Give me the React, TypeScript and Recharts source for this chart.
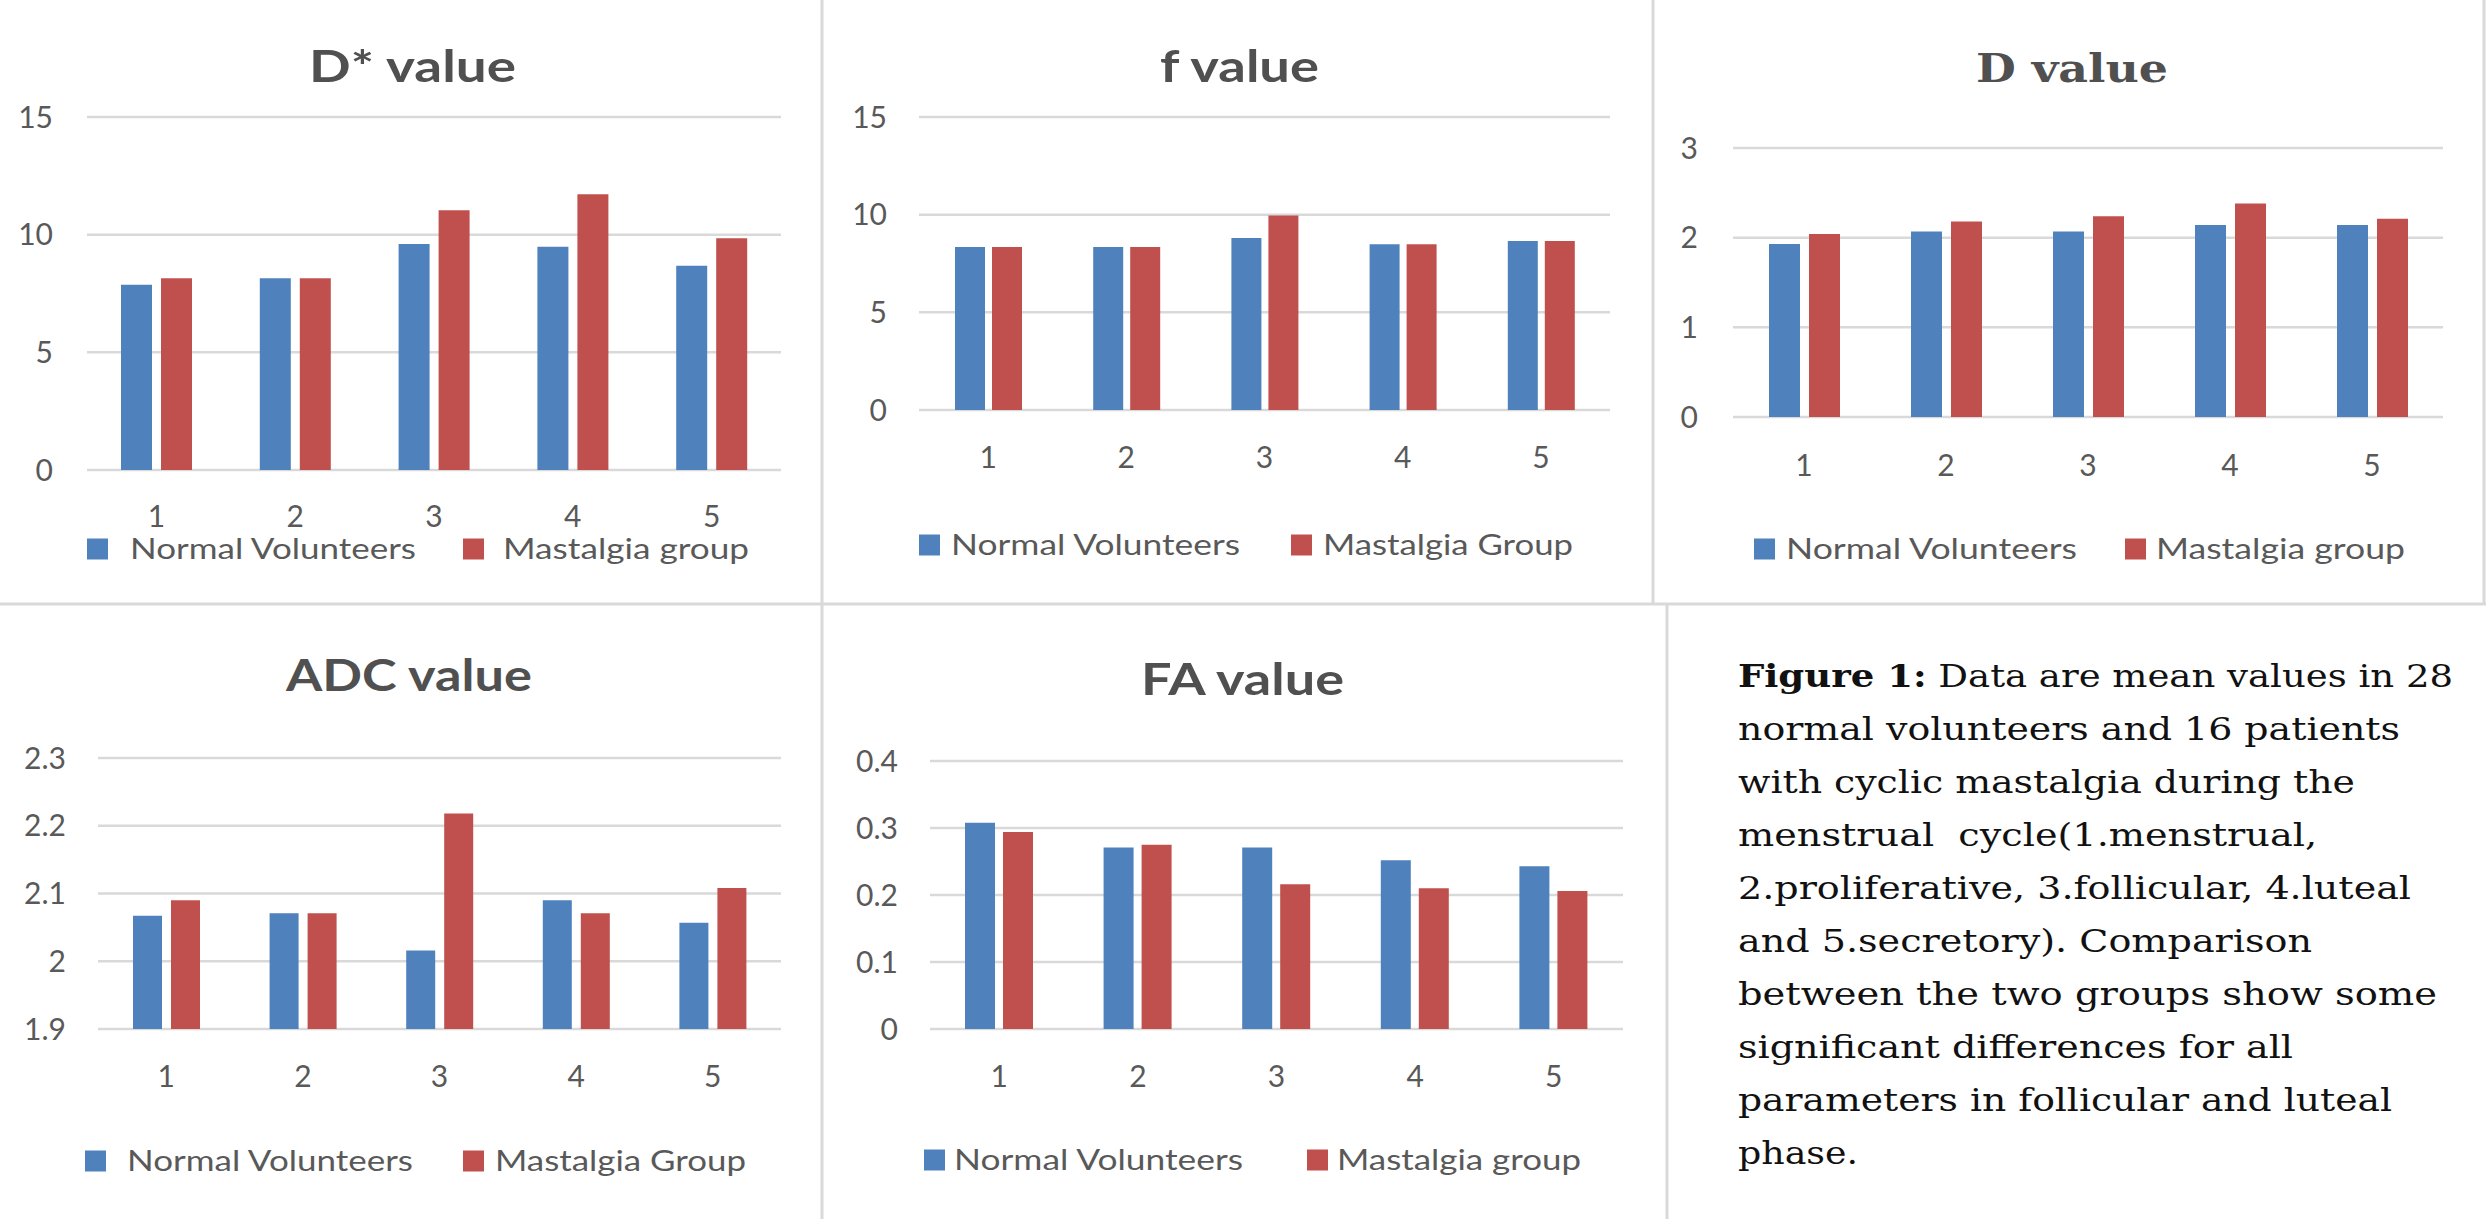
import { Bar, BarChart, CartesianGrid, XAxis, YAxis } from 'recharts'

// menstrual phase 1..5
const phases = ['1', '2', '3', '4', '5']

const dStarNormal = [7.87, 8.15, 9.6, 9.49, 8.68]
const dStarMastalgia = [8.15, 8.15, 11.04, 11.72, 9.85]
const fNormal = [8.35, 8.35, 8.8, 8.49, 8.65]
const fMastalgia = [8.35, 8.35, 9.96, 8.49, 8.65]
const dNormal = [1.93, 2.07, 2.07, 2.14, 2.14]
const dMastalgia = [2.04, 2.18, 2.24, 2.38, 2.21]
const adcNormal = [2.067, 2.071, 2.016, 2.09, 2.057]
const adcMastalgia = [2.09, 2.071, 2.218, 2.071, 2.108]
const faNormal = [0.308, 0.271, 0.271, 0.252, 0.243]
const faMastalgia = [0.294, 0.275, 0.216, 0.21, 0.206]

const dStarTicks = [0, 5, 10, 15]
const fTicks = [0, 5, 10, 15]
const dTicks = [0, 1, 2, 3]
const adcTicks = [1.9, 2, 2.1, 2.2, 2.3]
const faTicks = [0, 0.1, 0.2, 0.3, 0.4]

const captionLines = [
  ['Figure 1:', ' Data are mean values in 28'],
  ['', 'normal volunteers and 16 patients'],
  ['', 'with cyclic mastalgia during the'],
  ['', 'menstrual  cycle(1.menstrual,'],
  ['', '2.proliferative, 3.follicular, 4.luteal'],
  ['', 'and 5.secretory). Comparison'],
  ['', 'between the two groups show some'],
  ['', 'significant differences for all'],
  ['', 'parameters in follicular and luteal'],
  ['', 'phase.'],
]

const BLUE = '#4f81bd'
const RED = '#c0504d'
const GRID = '#d9d9d9'
const SANS = 'Lato, "Open Sans", sans-serif'
const SERIF = '"DejaVu Serif", serif'
const CAPTION_FONT = '"DejaVu Serif Condensed", "DejaVu Serif", serif'

type Panel = {
  title: string
  titleFont: string
  titleSize: number
  normalName: string
  mastalgiaName: string
  normal: number[]
  mastalgia: number[]
  ticks: number[]
  // layout, page pixels
  left: number; top: number; width: number; height: number
  plotLeft: number; plotRight: number; plotTop: number; plotBottom: number
  yTickMargin: number; xTickMargin: number
  barSize: number; barGap: number
  titleX: number; titleW: number; titleBase: number
  legendY: number; legendBlue: number; legendBlueText: number; legendBlueW: number
  legendRed: number; legendRedText: number; legendRedW: number
}

const panels: Panel[] = [
  {
    title: 'D* value', titleFont: SANS, titleSize: 43, normalName: 'Normal Volunteers', mastalgiaName: 'Mastalgia group',
    normal: dStarNormal, mastalgia: dStarMastalgia, ticks: dStarTicks,
    left: 0, top: 0, width: 822, height: 604,
    plotLeft: 87, plotRight: 781, plotTop: 117, plotBottom: 470,
    yTickMargin: 34, xTickMargin: 36, barSize: 31, barGap: 9,
    titleX: 309, titleW: 207, titleBase: 82,
    legendY: 549, legendBlue: 87, legendBlueText: 130, legendBlueW: 286, legendRed: 463, legendRedText: 503, legendRedW: 246,
  },
  {
    title: 'f value', titleFont: SANS, titleSize: 43, normalName: 'Normal Volunteers', mastalgiaName: 'Mastalgia Group',
    normal: fNormal, mastalgia: fMastalgia, ticks: fTicks,
    left: 822, top: 0, width: 831, height: 604,
    plotLeft: 919, plotRight: 1610, plotTop: 117, plotBottom: 410,
    yTickMargin: 32, xTickMargin: 37, barSize: 30, barGap: 7,
    titleX: 1160, titleW: 159, titleBase: 82,
    legendY: 545, legendBlue: 919, legendBlueText: 951, legendBlueW: 289, legendRed: 1291, legendRedText: 1323, legendRedW: 250,
  },
  {
    title: 'D value', titleFont: SERIF, titleSize: 40, normalName: 'Normal Volunteers', mastalgiaName: 'Mastalgia group',
    normal: dNormal, mastalgia: dMastalgia, ticks: dTicks,
    left: 1653, top: 0, width: 834, height: 604,
    plotLeft: 1733, plotRight: 2443, plotTop: 148, plotBottom: 417,
    yTickMargin: 35, xTickMargin: 38, barSize: 31, barGap: 9,
    titleX: 1976, titleW: 192, titleBase: 82,
    legendY: 549, legendBlue: 1754, legendBlueText: 1786, legendBlueW: 291, legendRed: 2125, legendRedText: 2156, legendRedW: 249,
  },
  {
    title: 'ADC value', titleFont: SANS, titleSize: 43, normalName: 'Normal Volunteers', mastalgiaName: 'Mastalgia Group',
    normal: adcNormal, mastalgia: adcMastalgia, ticks: adcTicks,
    left: 0, top: 604, width: 822, height: 615,
    plotLeft: 98, plotRight: 781, plotTop: 758, plotBottom: 1029,
    yTickMargin: 32, xTickMargin: 37, barSize: 29, barGap: 9,
    titleX: 286, titleW: 246, titleBase: 691,
    legendY: 1161, legendBlue: 85, legendBlueText: 127, legendBlueW: 286, legendRed: 463, legendRedText: 495, legendRedW: 251,
  },
  {
    title: 'FA value', titleFont: SANS, titleSize: 43, normalName: 'Normal Volunteers', mastalgiaName: 'Mastalgia group',
    normal: faNormal, mastalgia: faMastalgia, ticks: faTicks,
    left: 822, top: 604, width: 845, height: 615,
    plotLeft: 930, plotRight: 1623, plotTop: 761, plotBottom: 1029,
    yTickMargin: 32, xTickMargin: 37, barSize: 30, barGap: 8,
    titleX: 1141, titleW: 203, titleBase: 695,
    legendY: 1160, legendBlue: 924, legendBlueText: 954, legendBlueW: 289, legendRed: 1307, legendRedText: 1337, legendRedW: 244,
  },
]

const captionWidths = [715, 662, 617, 579, 673, 574, 699, 555, 654, 120]

const X_AXIS_H = 30
const tickStyle = { fill: '#595959', fontSize: 30, fontFamily: SANS }

function PanelChart({ p }: { p: Panel }) {
  const data = phases.map((phase, i) => ({ phase, normal: p.normal[i], mastalgia: p.mastalgia[i] }))
  const margin = {
    top: p.plotTop - p.top,
    right: p.left + p.width - p.plotRight,
    bottom: p.top + p.height - p.plotBottom - X_AXIS_H,
    left: 0,
  }
  return <div style={{ position: 'absolute', left: p.left, top: p.top }}>
    <BarChart width={p.width} height={p.height} data={data} margin={margin} barSize={p.barSize} barGap={p.barGap}>
      <CartesianGrid vertical={false} stroke={GRID} strokeWidth={2.5} />
      <XAxis dataKey="phase" height={X_AXIS_H} axisLine={false} tickLine={false} tickSize={0} tickMargin={p.xTickMargin} tick={tickStyle} />
      <YAxis
        type="number"
        width={p.plotLeft - p.left}
        domain={[p.ticks[0], p.ticks[p.ticks.length - 1]]}
        ticks={p.ticks}
        interval={0}
        axisLine={false}
        tickLine={false}
        tickSize={0}
        tickMargin={p.yTickMargin}
        tick={tickStyle}
      />
      <Bar dataKey="normal" name={p.normalName} fill={BLUE} isAnimationActive={false} />
      <Bar dataKey="mastalgia" name={p.mastalgiaName} fill={RED} isAnimationActive={false} />
    </BarChart>
  </div>
}

function Overlay() {
  const sq = 21
  return <svg width={2487} height={1219} style={{ position: 'absolute', left: 0, top: 0, pointerEvents: 'none' }}>
    {/* panel frames */}
    <g stroke={GRID} strokeWidth={3}>
      <line x1={0} y1={604} x2={2486} y2={604} />
      <line x1={822} y1={0} x2={822} y2={1219} />
      <line x1={1653} y1={0} x2={1653} y2={604} />
      <line x1={1667} y1={604} x2={1667} y2={1219} />
      <line x1={2484} y1={0} x2={2484} y2={604} />
    </g>
    {panels.map((p) => <g key={p.title}>
      <text x={p.titleX} y={p.titleBase} textLength={p.titleW} lengthAdjust="spacingAndGlyphs"
        fontFamily={p.titleFont} fontSize={p.titleSize} fontWeight={700} fill="#505050">{p.title}</text>
      <rect x={p.legendBlue} y={p.legendY - sq / 2} width={sq} height={sq} fill={BLUE} />
      <text x={p.legendBlueText} y={p.legendY + 10} textLength={p.legendBlueW} lengthAdjust="spacingAndGlyphs"
        fontFamily={SANS} fontSize={29} fill="#595959">{p.normalName}</text>
      <rect x={p.legendRed} y={p.legendY - sq / 2} width={sq} height={sq} fill={RED} />
      <text x={p.legendRedText} y={p.legendY + 10} textLength={p.legendRedW} lengthAdjust="spacingAndGlyphs"
        fontFamily={SANS} fontSize={29} fill="#595959">{p.mastalgiaName}</text>
    </g>)}
    {captionLines.map(([bold, rest], i) => <text key={i} x={1738} y={687 + 53 * i}
      textLength={captionWidths[i]} lengthAdjust="spacingAndGlyphs"
      fontFamily={CAPTION_FONT} fontSize={32} fill="#111" style={{ whiteSpace: 'pre' }}>
      {bold ? <tspan fontWeight={700}>{bold}</tspan> : null}{rest}
    </text>)}
  </svg>
}

export default function App() {
  return <div style={{ position: 'absolute', left: 0, top: 0, width: 2487, height: 1219, background: '#fff', overflow: 'hidden' }}>
    {panels.map((p) => <PanelChart key={p.title} p={p} />)}
    <Overlay />
  </div>
}
